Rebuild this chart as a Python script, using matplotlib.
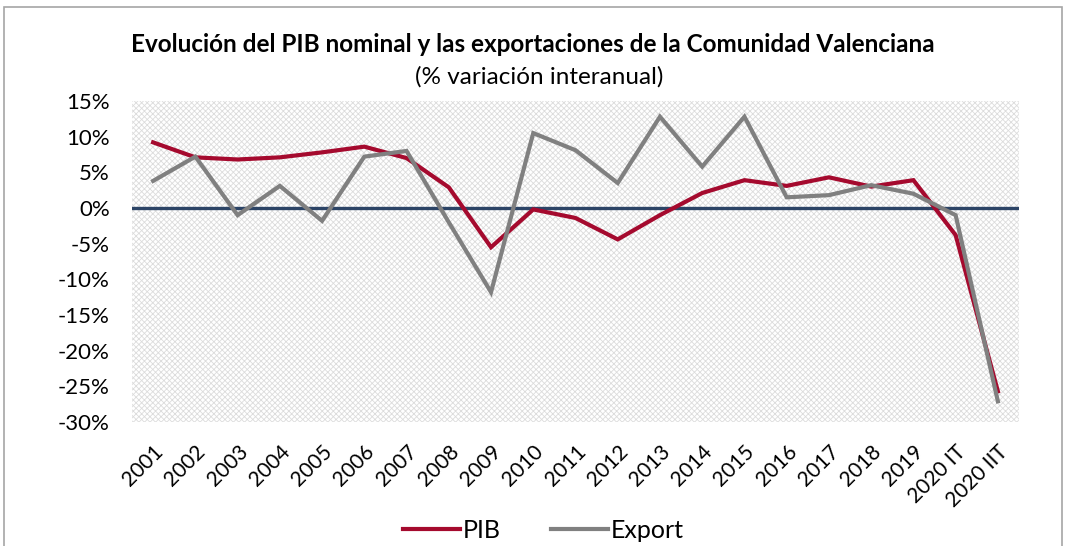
import matplotlib.pyplot as plt
from matplotlib.patches import Rectangle
from matplotlib.ticker import FuncFormatter

plt.rcParams['font.family'] = ['Lato', 'DejaVu Sans']
plt.rcParams['hatch.color'] = '#dcdcdc'
plt.rcParams['hatch.linewidth'] = 0.6

periodos = ['2001', '2002', '2003', '2004', '2005', '2006', '2007', '2008',
            '2009', '2010', '2011', '2012', '2013', '2014', '2015', '2016',
            '2017', '2018', '2019', '2020 IT', '2020 IIT']
pib = [9.2, 7.1, 6.8, 7.1, 7.8, 8.6, 7.0, 2.9, -5.5, -0.2, -1.4, -4.4,
       -1.0, 2.1, 3.9, 3.1, 4.3, 3.0, 3.9, -3.8, -25.7]
export = [3.8, 7.2, -1.0, 3.1, -1.8, 7.2, 8.0, -2.0, -11.8, 10.5, 8.1, 3.5,
          12.8, 5.8, 12.8, 1.5, 1.8, 3.2, 2.0, -1.0, -27.1]

fig = plt.figure(figsize=(10.65, 5.46), dpi=100)
ax = fig.add_axes([132 / 1065, 1 - 422 / 546, 887 / 1065, 321 / 546])

# marco del gráfico
fig.patches.append(Rectangle((0.004, -0.01), 0.993, 0.997, transform=fig.transFigure,
                             fill=False, edgecolor='#a6a6a6', linewidth=1.2))

ax.set_facecolor('white')
ax.add_patch(Rectangle((0, 0), 1, 1, transform=ax.transAxes, facecolor='white',
                       hatch='xxxxxx', edgecolor='#dcdcdc', linewidth=0, zorder=0))

x = list(range(len(periodos)))
ax.axhline(0, color='#2c4466', linewidth=2.4, zorder=2)
ax.plot(x, pib, color='#a50a2e', linewidth=3, label='PIB', zorder=3,
        solid_joinstyle='miter')
ax.plot(x, export, color='#808080', linewidth=3, label='Export', zorder=4,
        solid_joinstyle='miter')

ax.set_xlim(-0.5, len(periodos) - 0.5)
ax.set_ylim(-30, 15)
ax.set_yticks(range(-30, 16, 5))
ax.yaxis.set_major_formatter(FuncFormatter(lambda v, p: f'{v:.0f}%'))
ax.set_xticks(x)
ax.set_xticklabels(periodos, rotation=45, ha='right', rotation_mode='anchor')
ax.tick_params(axis='both', length=0)
ax.tick_params(axis='x', pad=14, labelsize=15)
ax.tick_params(axis='y', pad=16, labelsize=16)
for s in ax.spines.values():
    s.set_visible(False)

fig.text(0.5, 1 - 45 / 546, 'Evolución del PIB nominal y las exportaciones de la Comunidad Valenciana',
         ha='center', va='center', fontsize=17.5, fontweight='bold')
fig.text(0.506, 1 - 77 / 546, '(% variación interanual)', ha='center', va='center', fontsize=17.5)

fig.legend(loc='center', bbox_to_anchor=(0.51, 1 - 530 / 546), ncol=2, frameon=False,
           fontsize=18, handlelength=2.3, columnspacing=2.0, handletextpad=0.1)

fig.savefig('out.png', dpi=100)
